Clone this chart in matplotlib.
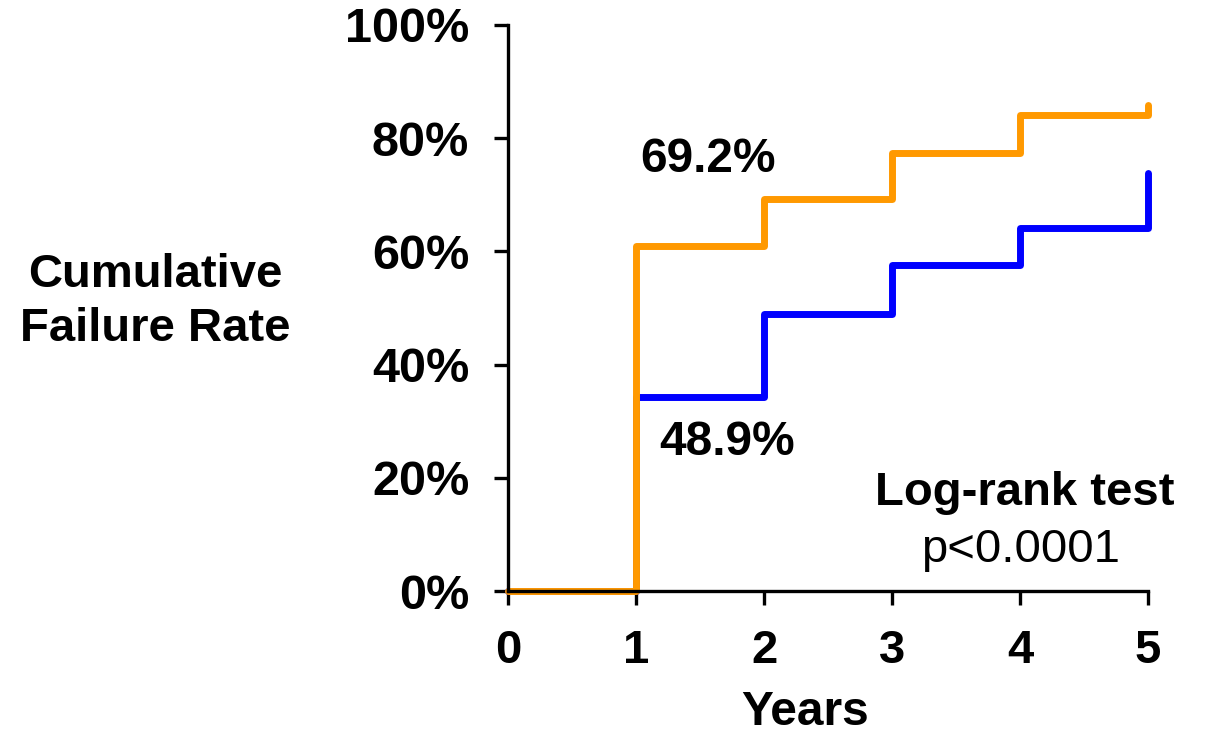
import numpy as np
import matplotlib
matplotlib.use("Agg")
import matplotlib.pyplot as plt

plt.rcParams['font.family'] = ['Liberation Sans', 'DejaVu Sans']

years = [0, 1, 2, 3, 4, 5]
orange_rate = [0, 60.9, 69.2, 77.4, 84.1, 85.9]
blue_rate = [0, 34.3, 48.9, 57.6, 64.1, 73.9]
yticks = [0, 20, 40, 60, 80, 100]
ytick_labels = ["0%", "20%", "40%", "60%", "80%", "100%"]

fig = plt.figure(figsize=(12.05, 7.35), dpi=100)
ax = fig.add_axes([0.4216, 0.1959, 0.5311, 0.7701])

ax.plot(years, blue_rate, drawstyle='steps-post', color='#0000FF', lw=5,
        solid_joinstyle='round', solid_capstyle='round', clip_on=False)
ax.plot(years, orange_rate, drawstyle='steps-post', color='#FF9900', lw=5,
        solid_joinstyle='round', solid_capstyle='round', clip_on=False)

ax.set_xlim(0, 5)
ax.set_ylim(0, 100)
ax.set_xticks(years)
ax.set_yticks(yticks)
ax.set_yticklabels(ytick_labels)

for s in ['top', 'right']:
    ax.spines[s].set_visible(False)
for s in ['left', 'bottom']:
    ax.spines[s].set_linewidth(2.4)

ax.tick_params(axis='both', direction='out', length=10, width=2.4)
ax.tick_params(axis='x', pad=17, labelsize=34)
ax.tick_params(axis='y', pad=18, labelsize=35)
for lab in ax.get_xticklabels() + ax.get_yticklabels():
    lab.set_fontweight('bold')

ax.set_xlabel("Years", fontsize=34.5, fontweight='bold')
ax.xaxis.set_label_coords(0.464, -0.174)
fig.text(0.129, 0.589, "Cumulative\nFailure Rate", fontsize=34,
         fontweight='bold', ha='center', va='center', linespacing=1.3)

ax.text(1.5625, 74.0, "69.2%", fontsize=34.5, fontweight='bold',
        ha='center', va='baseline')
ax.text(1.71, 24.0, "48.9%", fontsize=34.5, fontweight='bold',
        ha='center', va='baseline')
ax.text(4.04, 15.2, "Log-rank test", fontsize=34, fontweight='bold',
        ha='center', va='baseline')
ax.text(4.0, 5.1, "p<0.0001", fontsize=34, ha='center', va='baseline')

fig.savefig("out.png", dpi=100)
